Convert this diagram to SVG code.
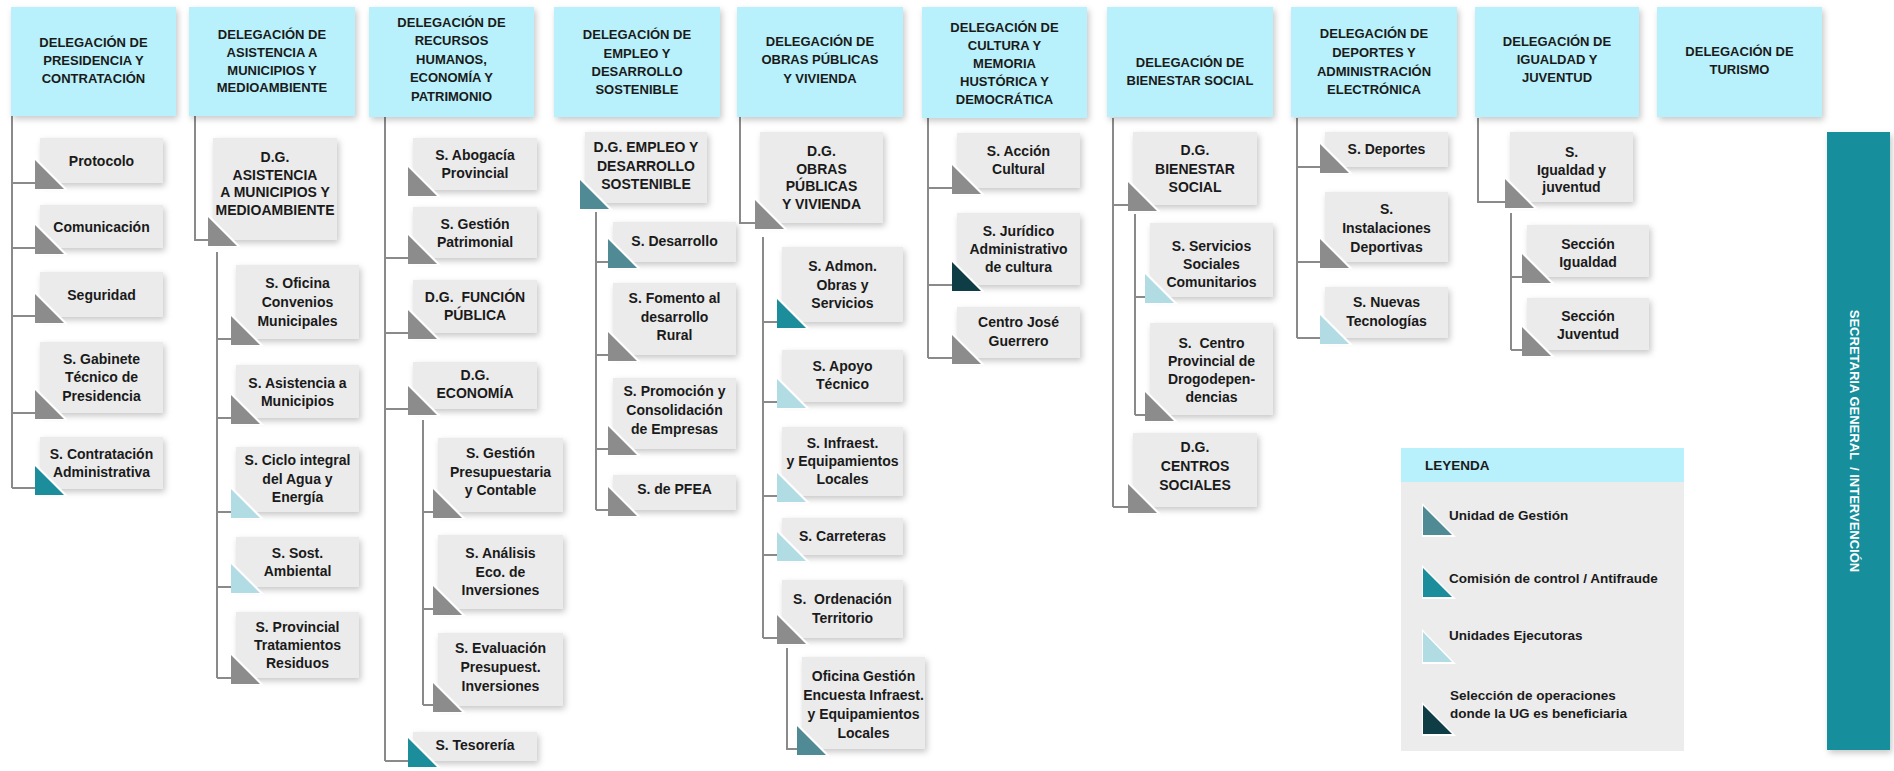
<svg xmlns="http://www.w3.org/2000/svg" width="1894" height="771" viewBox="0 0 1894 771">
<defs>
<filter id="sh" x="-20%" y="-20%" width="140%" height="150%">
<feDropShadow dx="2" dy="3" stdDeviation="3" flood-color="#000" flood-opacity="0.22"/>
</filter>
</defs>
<style>
.hdr{fill:#b8f1fb;filter:url(#sh)}
.box{fill:#ebebeb;filter:url(#sh)}
.ht{font-family:"Liberation Sans",Arial,sans-serif;font-weight:bold;font-size:13px;text-anchor:middle;fill:#1a1a1a}
.nt{font-family:"Liberation Sans",Arial,sans-serif;font-weight:bold;font-size:14px;text-anchor:middle;fill:#1a1a1a}
.lt{font-family:"Liberation Sans",Arial,sans-serif;font-weight:bold;font-size:13.5px;fill:#1a1a1a}
.st{font-family:"Liberation Sans",Arial,sans-serif;font-weight:bold;font-size:13px;text-anchor:middle;fill:#ffffff}
.tw{fill:#ffffff}
.tg{fill:#8c8c8c}
.tu{fill:#4f8a95}
.tc{fill:#1c8d9b}
.te{fill:#b2dce3}
.td{fill:#0e3d46}
.ln{stroke:#8a8a8a;stroke-width:2;fill:none}
</style>
<rect width="1894" height="771" fill="#ffffff"/>

<g id="connectors">
<path class="ln" d="M12 116V488M12 183H35M12 248H35M12 316H35M12 413H35M12 488H35"/>
<path class="ln" d="M195 116V240H208M217 252V678M217 339H231M217 418H231M217 512H231M217 587H231M217 678H231"/>
<path class="ln" d="M385 117V761M385 258H408M385 333H408M385 409H408M385 761H408M423 420V705M423 512H433M423 609H433M423 705H433"/>
<path class="ln" d="M596 212V510M596 262H608M596 355H608M596 449H608M596 510H608"/>
<path class="ln" d="M740 117V223H755M763 237V638M763 322H777M763 402H777M763 496H777M763 555H777M763 638H777M787 648V749H797"/>
<path class="ln" d="M928 118V358M928 188H952M928 285H952M928 358H952"/>
<path class="ln" d="M1113 118V507M1113 205H1128M1113 507H1128M1135 214V415M1135 297H1145M1135 415H1145"/>
<path class="ln" d="M1297 118V338M1297 167H1320M1297 262H1320M1297 338H1320"/>
<path class="ln" d="M1478 118V202H1505M1511 213V350M1511 277H1522M1511 350H1522"/>
</g>

<!-- Headers -->
<g id="h1"><rect class="hdr" x="11" y="7" width="165" height="109"/><text class="ht" x="93.5" y="47">DELEGACIÓN DE</text><text class="ht" x="93.5" y="65">PRESIDENCIA Y</text><text class="ht" x="93.5" y="83">CONTRATACIÓN</text></g>
<g id="h2"><rect class="hdr" x="189" y="7" width="166" height="109"/><text class="ht" x="272" y="39">DELEGACIÓN DE</text><text class="ht" x="272" y="57">ASISTENCIA A</text><text class="ht" x="272" y="74.5">MUNICIPIOS Y</text><text class="ht" x="272" y="92">MEDIOAMBIENTE</text></g>
<g id="h3"><rect class="hdr" x="369" y="7" width="165" height="110"/><text class="ht" x="451.5" y="27">DELEGACIÓN DE</text><text class="ht" x="451.5" y="45">RECURSOS</text><text class="ht" x="451.5" y="64">HUMANOS,</text><text class="ht" x="451.5" y="82">ECONOMÍA Y</text><text class="ht" x="451.5" y="101">PATRIMONIO</text></g>
<g id="h4"><rect class="hdr" x="554" y="7" width="166" height="110"/><text class="ht" x="637" y="39">DELEGACIÓN DE</text><text class="ht" x="637" y="57.5">EMPLEO Y</text><text class="ht" x="637" y="76">DESARROLLO</text><text class="ht" x="637" y="94">SOSTENIBLE</text></g>
<g id="h5"><rect class="hdr" x="737" y="7" width="166" height="110"/><text class="ht" x="820" y="46">DELEGACIÓN DE</text><text class="ht" x="820" y="64">OBRAS PÚBLICAS</text><text class="ht" x="820" y="83">Y VIVIENDA</text></g>
<g id="h6"><rect class="hdr" x="922" y="7" width="165" height="111"/><text class="ht" x="1004.5" y="32">DELEGACIÓN DE</text><text class="ht" x="1004.5" y="50">CULTURA Y</text><text class="ht" x="1004.5" y="67.5">MEMORIA</text><text class="ht" x="1004.5" y="86">HUSTÓRICA Y</text><text class="ht" x="1004.5" y="104">DEMOCRÁTICA</text></g>
<g id="h7"><rect class="hdr" x="1107" y="7" width="166" height="110"/><text class="ht" x="1190" y="66.5">DELEGACIÓN DE</text><text class="ht" x="1190" y="84.5">BIENESTAR SOCIAL</text></g>
<g id="h8"><rect class="hdr" x="1291" y="7" width="166" height="110"/><text class="ht" x="1374" y="38">DELEGACIÓN DE</text><text class="ht" x="1374" y="57">DEPORTES Y</text><text class="ht" x="1374" y="75.5">ADMINISTRACIÓN</text><text class="ht" x="1374" y="94">ELECTRÓNICA</text></g>
<g id="h9"><rect class="hdr" x="1475" y="7" width="164" height="110"/><text class="ht" x="1557" y="46">DELEGACIÓN DE</text><text class="ht" x="1557" y="64">IGUALDAD Y</text><text class="ht" x="1557" y="82">JUVENTUD</text></g>
<g id="h10"><rect class="hdr" x="1657" y="7" width="165" height="110"/><text class="ht" x="1739.5" y="56">DELEGACIÓN DE</text><text class="ht" x="1739.5" y="74">TURISMO</text></g>

<!-- Column 1 -->
<g id="n-protocolo"><rect class="box" x="40" y="138" width="123" height="45"/><polygon class="tw" points="35,157 68,190 35,190"/><polygon class="tg" points="35,160 64,189 35,189"/><text class="nt" x="101.5" y="165.5">Protocolo</text></g>
<g id="n-comunicacion"><rect class="box" x="40" y="205" width="123" height="43"/><polygon class="tw" points="35,222 68,255 35,255"/><polygon class="tg" points="35,225 64,254 35,254"/><text class="nt" x="101.5" y="231.5">Comunicación</text></g>
<g id="n-seguridad"><rect class="box" x="40" y="272" width="123" height="45"/><polygon class="tw" points="35,291 68,324 35,324"/><polygon class="tg" points="35,294 64,323 35,323"/><text class="nt" x="101.5" y="299.5">Seguridad</text></g>
<g id="n-gabinete"><rect class="box" x="40" y="342" width="123" height="71"/><polygon class="tw" points="35,387 68,420 35,420"/><polygon class="tg" points="35,390 64,419 35,419"/><text class="nt" x="101.5" y="364">S. Gabinete</text><text class="nt" x="101.5" y="382">Técnico de</text><text class="nt" x="101.5" y="401">Presidencia</text></g>
<g id="n-contratacion"><rect class="box" x="40" y="437" width="123" height="52"/><polygon class="tw" points="35,463 68,496 35,496"/><polygon class="tc" points="35,466 64,495 35,495"/><text class="nt" x="101.5" y="459">S. Contratación</text><text class="nt" x="101.5" y="477">Administrativa</text></g>

<!-- Column 2 -->
<g id="n-dg-asistencia"><rect class="box" x="213" y="138" width="124" height="102"/><polygon class="tw" points="208,214 241,247 208,247"/><polygon class="tg" points="208,217 237,246 208,246"/><text class="nt" x="275" y="162">D.G.</text><text class="nt" x="275" y="179.5">ASISTENCIA</text><text class="nt" x="275" y="197">A MUNICIPIOS Y</text><text class="nt" x="275" y="214.5">MEDIOAMBIENTE</text></g>
<g id="n-convenios"><rect class="box" x="236" y="265" width="123" height="74"/><polygon class="tw" points="231,313 264,346 231,346"/><polygon class="tg" points="231,316 260,345 231,345"/><text class="nt" x="297.5" y="287.5">S. Oficina</text><text class="nt" x="297.5" y="307">Convenios</text><text class="nt" x="297.5" y="326">Municipales</text></g>
<g id="n-asist-mun"><rect class="box" x="236" y="365" width="123" height="53"/><polygon class="tw" points="231,392 264,425 231,425"/><polygon class="tg" points="231,395 260,424 231,424"/><text class="nt" x="297.5" y="387.5">S. Asistencia a</text><text class="nt" x="297.5" y="406">Municipios</text></g>
<g id="n-ciclo"><rect class="box" x="236" y="447" width="123" height="65"/><polygon class="tw" points="231,486 264,519 231,519"/><polygon class="te" points="231,489 260,518 231,518"/><text class="nt" x="297.5" y="465">S. Ciclo integral</text><text class="nt" x="297.5" y="484">del Agua y</text><text class="nt" x="297.5" y="502">Energía</text></g>
<g id="n-sost"><rect class="box" x="236" y="537" width="123" height="50"/><polygon class="tw" points="231,561 264,594 231,594"/><polygon class="te" points="231,564 260,593 231,593"/><text class="nt" x="297.5" y="558">S. Sost.</text><text class="nt" x="297.5" y="576">Ambiental</text></g>
<g id="n-residuos"><rect class="box" x="236" y="612" width="123" height="66"/><polygon class="tw" points="231,652 264,685 231,685"/><polygon class="tg" points="231,655 260,684 231,684"/><text class="nt" x="297.5" y="632">S. Provincial</text><text class="nt" x="297.5" y="650">Tratamientos</text><text class="nt" x="297.5" y="668">Residuos</text></g>

<!-- Column 3 -->
<g id="n-abogacia"><rect class="box" x="413" y="138" width="124" height="52"/><polygon class="tw" points="408,164 441,197 408,197"/><polygon class="tg" points="408,167 437,196 408,196"/><text class="nt" x="475" y="160">S. Abogacía</text><text class="nt" x="475" y="178">Provincial</text></g>
<g id="n-patrimonial"><rect class="box" x="413" y="207" width="124" height="51"/><polygon class="tw" points="408,232 441,265 408,265"/><polygon class="tg" points="408,235 437,264 408,264"/><text class="nt" x="475" y="228.5">S. Gestión</text><text class="nt" x="475" y="246.5">Patrimonial</text></g>
<g id="n-funcion"><rect class="box" x="413" y="280" width="124" height="53"/><polygon class="tw" points="408,307 441,340 408,340"/><polygon class="tg" points="408,310 437,339 408,339"/><text class="nt" x="475" y="302" xml:space="preserve">D.G.  FUNCIÓN</text><text class="nt" x="475" y="320">PÚBLICA</text></g>
<g id="n-economia"><rect class="box" x="413" y="362" width="124" height="47"/><polygon class="tw" points="408,383 441,416 408,416"/><polygon class="tg" points="408,386 437,415 408,415"/><text class="nt" x="475" y="380">D.G.</text><text class="nt" x="475" y="398">ECONOMÍA</text></g>
<g id="n-presupuestaria"><rect class="box" x="438" y="438" width="125" height="74"/><polygon class="tw" points="433,486 466,519 433,519"/><polygon class="tg" points="433,489 462,518 433,518"/><text class="nt" x="500.5" y="458">S. Gestión</text><text class="nt" x="500.5" y="477">Presupuestaria</text><text class="nt" x="500.5" y="495">y Contable</text></g>
<g id="n-analisis"><rect class="box" x="438" y="535" width="125" height="74"/><polygon class="tw" points="433,583 466,616 433,616"/><polygon class="tg" points="433,586 462,615 433,615"/><text class="nt" x="500.5" y="558">S. Análisis</text><text class="nt" x="500.5" y="576.5">Eco. de</text><text class="nt" x="500.5" y="595">Inversiones</text></g>
<g id="n-evaluacion"><rect class="box" x="438" y="633" width="125" height="73"/><polygon class="tw" points="433,680 466,713 433,713"/><polygon class="tg" points="433,683 462,712 433,712"/><text class="nt" x="500.5" y="653">S. Evaluación</text><text class="nt" x="500.5" y="672">Presupuest.</text><text class="nt" x="500.5" y="691">Inversiones</text></g>
<g id="n-tesoreria"><rect class="box" x="413" y="732" width="124" height="29"/><polygon class="tw" points="408,735 441,768 408,768"/><polygon class="tc" points="408,738 437,767 408,767"/><text class="nt" x="475" y="750">S. Tesorería</text></g>

<!-- Column 4 -->
<g id="n-dg-empleo"><rect class="box" x="585" y="132" width="122" height="71"/><polygon class="tw" points="580,177 613,210 580,210"/><polygon class="tu" points="580,180 609,209 580,209"/><text class="nt" x="646" y="152">D.G. EMPLEO Y</text><text class="nt" x="646" y="171">DESARROLLO</text><text class="nt" x="646" y="189">SOSTENIBLE</text></g>
<g id="n-desarrollo"><rect class="box" x="613" y="222" width="123" height="40"/><polygon class="tw" points="608,236 641,269 608,269"/><polygon class="tu" points="608,239 637,268 608,268"/><text class="nt" x="674.5" y="246">S. Desarrollo</text></g>
<g id="n-fomento"><rect class="box" x="613" y="283" width="123" height="72"/><polygon class="tw" points="608,329 641,362 608,362"/><polygon class="tg" points="608,332 637,361 608,361"/><text class="nt" x="674.5" y="303">S. Fomento al</text><text class="nt" x="674.5" y="322">desarrollo</text><text class="nt" x="674.5" y="340">Rural</text></g>
<g id="n-promocion"><rect class="box" x="613" y="378" width="123" height="71"/><polygon class="tw" points="608,423 641,456 608,456"/><polygon class="tg" points="608,426 637,455 608,455"/><text class="nt" x="674.5" y="396">S. Promoción y</text><text class="nt" x="674.5" y="415">Consolidación</text><text class="nt" x="674.5" y="434">de Empresas</text></g>
<g id="n-pfea"><rect class="box" x="613" y="475" width="123" height="35"/><polygon class="tw" points="608,484 641,517 608,517"/><polygon class="tg" points="608,487 637,516 608,516"/><text class="nt" x="674.5" y="494">S. de PFEA</text></g>

<!-- Column 5 -->
<g id="n-dg-obras"><rect class="box" x="760" y="132" width="123" height="91"/><polygon class="tw" points="755,197 788,230 755,230"/><polygon class="tg" points="755,200 784,229 755,229"/><text class="nt" x="821.5" y="156">D.G.</text><text class="nt" x="821.5" y="173.5">OBRAS</text><text class="nt" x="821.5" y="191">PÚBLICAS</text><text class="nt" x="821.5" y="208.5">Y VIVIENDA</text></g>
<g id="n-admon"><rect class="box" x="782" y="247" width="121" height="75"/><polygon class="tw" points="777,296 810,329 777,329"/><polygon class="tc" points="777,299 806,328 777,328"/><text class="nt" x="842.5" y="271">S. Admon.</text><text class="nt" x="842.5" y="289.5">Obras y</text><text class="nt" x="842.5" y="308">Servicios</text></g>
<g id="n-apoyo"><rect class="box" x="782" y="350" width="121" height="52"/><polygon class="tw" points="777,376 810,409 777,409"/><polygon class="te" points="777,379 806,408 777,408"/><text class="nt" x="842.5" y="371">S. Apoyo</text><text class="nt" x="842.5" y="389">Técnico</text></g>
<g id="n-infraest"><rect class="box" x="782" y="427" width="121" height="69"/><polygon class="tw" points="777,470 810,503 777,503"/><polygon class="te" points="777,473 806,502 777,502"/><text class="nt" x="842.5" y="448">S. Infraest.</text><text class="nt" x="842.5" y="466">y Equipamientos</text><text class="nt" x="842.5" y="484">Locales</text></g>
<g id="n-carreteras"><rect class="box" x="782" y="518" width="121" height="37"/><polygon class="tw" points="777,529 810,562 777,562"/><polygon class="te" points="777,532 806,561 777,561"/><text class="nt" x="842.5" y="541">S. Carreteras</text></g>
<g id="n-ordenacion"><rect class="box" x="782" y="580" width="121" height="58"/><polygon class="tw" points="777,612 810,645 777,645"/><polygon class="tg" points="777,615 806,644 777,644"/><text class="nt" x="842.5" y="604" xml:space="preserve">S.  Ordenación</text><text class="nt" x="842.5" y="623">Territorio</text></g>
<g id="n-oficina"><rect class="box" x="802" y="657" width="123" height="92"/><polygon class="tw" points="797,723 830,756 797,756"/><polygon class="tu" points="797,726 826,755 797,755"/><text class="nt" x="863.5" y="681">Oficina Gestión</text><text class="nt" x="863.5" y="700">Encuesta Infraest.</text><text class="nt" x="863.5" y="719">y Equipamientos</text><text class="nt" x="863.5" y="737.5">Locales</text></g>

<!-- Column 6 -->
<g id="n-accion"><rect class="box" x="957" y="133" width="123" height="55"/><polygon class="tw" points="952,162 985,195 952,195"/><polygon class="tg" points="952,165 981,194 952,194"/><text class="nt" x="1018.5" y="156">S. Acción</text><text class="nt" x="1018.5" y="174">Cultural</text></g>
<g id="n-juridico"><rect class="box" x="957" y="213" width="123" height="72"/><polygon class="tw" points="952,259 985,292 952,292"/><polygon class="td" points="952,262 981,291 952,291"/><text class="nt" x="1018.5" y="236">S. Jurídico</text><text class="nt" x="1018.5" y="254">Administrativo</text><text class="nt" x="1018.5" y="272">de cultura</text></g>
<g id="n-guerrero"><rect class="box" x="957" y="307" width="123" height="51"/><polygon class="tw" points="952,332 985,365 952,365"/><polygon class="tg" points="952,335 981,364 952,364"/><text class="nt" x="1018.5" y="327">Centro José</text><text class="nt" x="1018.5" y="346">Guerrero</text></g>

<!-- Column 7 -->
<g id="n-dg-bienestar"><rect class="box" x="1133" y="132" width="124" height="73"/><polygon class="tw" points="1128,179 1161,212 1128,212"/><polygon class="tg" points="1128,182 1157,211 1128,211"/><text class="nt" x="1195" y="155">D.G.</text><text class="nt" x="1195" y="174">BIENESTAR</text><text class="nt" x="1195" y="192">SOCIAL</text></g>
<g id="n-servicios"><rect class="box" x="1150" y="223" width="123" height="74"/><polygon class="tw" points="1145,271 1178,304 1145,304"/><polygon class="te" points="1145,274 1174,303 1145,303"/><text class="nt" x="1211.5" y="251">S. Servicios</text><text class="nt" x="1211.5" y="269">Sociales</text><text class="nt" x="1211.5" y="287">Comunitarios</text></g>
<g id="n-drogo"><rect class="box" x="1150" y="323" width="123" height="92"/><polygon class="tw" points="1145,389 1178,422 1145,422"/><polygon class="tg" points="1145,392 1174,421 1145,421"/><text class="nt" x="1211.5" y="348" xml:space="preserve">S.  Centro</text><text class="nt" x="1211.5" y="366">Provincial de</text><text class="nt" x="1211.5" y="384">Drogodepen-</text><text class="nt" x="1211.5" y="402">dencias</text></g>
<g id="n-centros"><rect class="box" x="1133" y="433" width="124" height="74"/><polygon class="tw" points="1128,481 1161,514 1128,514"/><polygon class="tg" points="1128,484 1157,513 1128,513"/><text class="nt" x="1195" y="452">D.G.</text><text class="nt" x="1195" y="471">CENTROS</text><text class="nt" x="1195" y="490">SOCIALES</text></g>

<!-- Column 8 -->
<g id="n-deportes"><rect class="box" x="1325" y="132" width="123" height="35"/><polygon class="tw" points="1320,141 1353,174 1320,174"/><polygon class="tg" points="1320,144 1349,173 1320,173"/><text class="nt" x="1386.5" y="154">S. Deportes</text></g>
<g id="n-instalaciones"><rect class="box" x="1325" y="192" width="123" height="70"/><polygon class="tw" points="1320,236 1353,269 1320,269"/><polygon class="tg" points="1320,239 1349,268 1320,268"/><text class="nt" x="1386.5" y="214">S.</text><text class="nt" x="1386.5" y="233">Instalaciones</text><text class="nt" x="1386.5" y="252">Deportivas</text></g>
<g id="n-nuevas"><rect class="box" x="1325" y="287" width="123" height="51"/><polygon class="tw" points="1320,312 1353,345 1320,345"/><polygon class="te" points="1320,315 1349,344 1320,344"/><text class="nt" x="1386.5" y="307">S. Nuevas</text><text class="nt" x="1386.5" y="326">Tecnologías</text></g>

<!-- Column 9 -->
<g id="n-igualdad-juv"><rect class="box" x="1510" y="132" width="123" height="70"/><polygon class="tw" points="1505,176 1538,209 1505,209"/><polygon class="tg" points="1505,179 1534,208 1505,208"/><text class="nt" x="1571.5" y="157">S.</text><text class="nt" x="1571.5" y="175">Igualdad y</text><text class="nt" x="1571.5" y="192">juventud</text></g>
<g id="n-sec-igualdad"><rect class="box" x="1527" y="225" width="122" height="52"/><polygon class="tw" points="1522,251 1555,284 1522,284"/><polygon class="tg" points="1522,254 1551,283 1522,283"/><text class="nt" x="1588" y="249">Sección</text><text class="nt" x="1588" y="267">Igualdad</text></g>
<g id="n-sec-juventud"><rect class="box" x="1527" y="298" width="122" height="52"/><polygon class="tw" points="1522,324 1555,357 1522,357"/><polygon class="tg" points="1522,327 1551,356 1522,356"/><text class="nt" x="1588" y="321">Sección</text><text class="nt" x="1588" y="339">Juventud</text></g>

<!-- Legend -->
<g id="legend">
<rect x="1401" y="482" width="283" height="269" fill="#ececec"/>
<rect x="1401" y="448" width="283" height="34" fill="#b8f1fb"/>
<text class="lt" x="1425" y="470">LEYENDA</text>
<polygon class="tw" points="1422,503 1456,537 1422,537"/><polygon class="tu" points="1423,506 1452,535 1423,535"/>
<text class="lt" x="1449" y="520">Unidad de Gestión</text>
<polygon class="tw" points="1422,565 1456,599 1422,599"/><polygon class="tc" points="1423,568 1452,597 1423,597"/>
<text class="lt" x="1449" y="583">Comisión de control / Antifraude</text>
<polygon class="tw" points="1422,629 1456,664 1422,664"/><polygon class="te" points="1423,632 1452,662 1423,662"/>
<text class="lt" x="1449" y="640">Unidades Ejecutoras</text>
<polygon class="tw" points="1422,702 1456,736 1422,736"/><polygon class="td" points="1423,705 1452,734 1423,734"/>
<text class="lt" x="1450" y="700">Selección de operaciones</text>
<text class="lt" x="1450" y="718">donde la UG es beneficiaria</text>
</g>

<!-- Side bar -->
<g id="secretaria">
<rect x="1827" y="132" width="63" height="618" fill="#168e9c" filter="url(#sh)"/>
<text class="st" transform="translate(1850,441) rotate(90)" xml:space="preserve">SECRETARIA GENERAL  / INTERVENCIÓN</text>
</g>
</svg>
